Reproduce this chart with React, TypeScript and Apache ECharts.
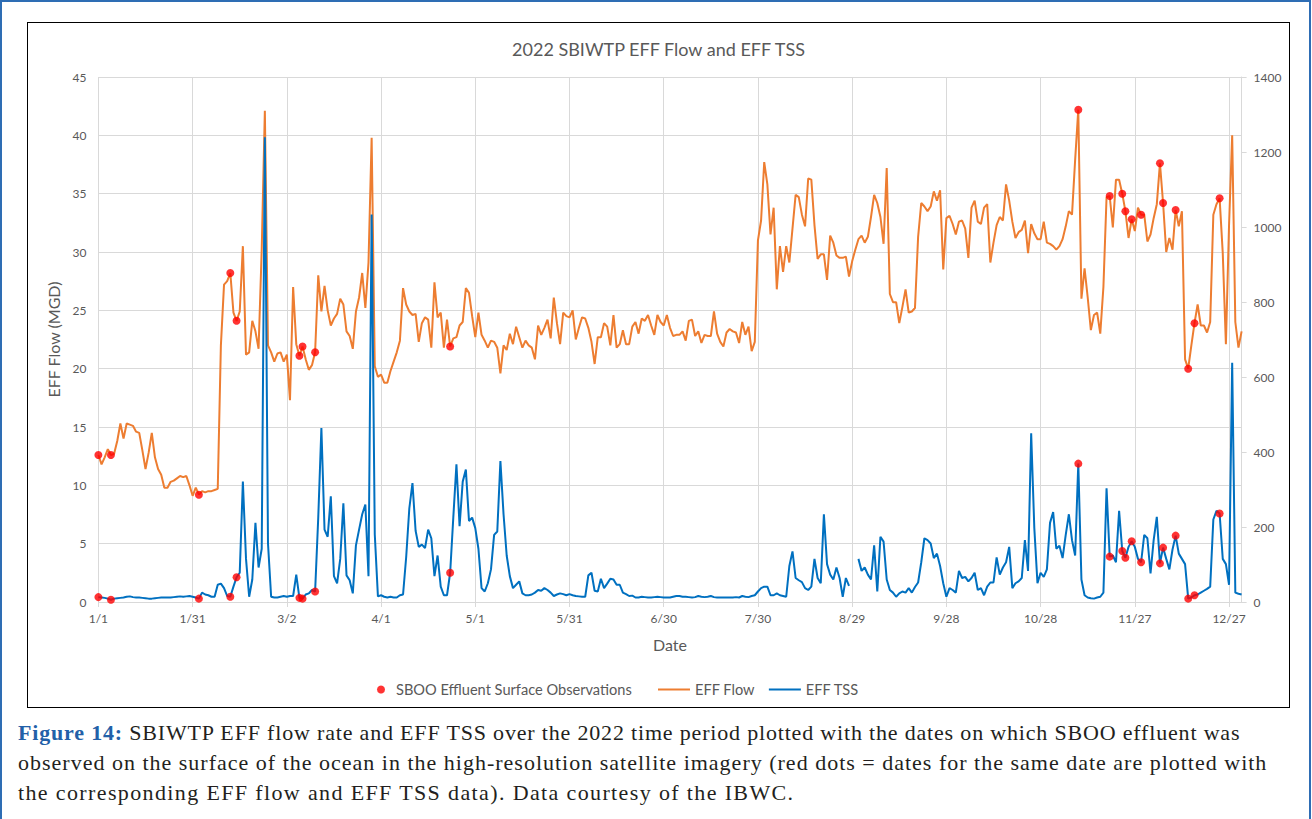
import React, { useEffect, useRef } from "react";
import * as echarts from "echarts";

// Daily EFF Flow (MGD), day 0 = 1/1/2022
const flow: number[] = [
  12.6, 11.8, 12.4, 13.1, 12.6, 12.7, 13.8, 15.3, 14.0, 15.3,
  15.2, 15.1, 14.6, 14.5, 13.0, 11.4, 12.8, 14.5, 12.4, 11.4,
  10.9, 9.8, 9.8, 10.3, 10.4, 10.6, 10.8, 10.7, 10.8, 10.0,
  9.1, 9.8, 9.2, 9.5, 9.4, 9.5, 9.5, 9.6, 9.7, 22.0,
  27.2, 27.5, 28.2, 24.8, 24.1, 24.9, 30.5, 21.2, 21.4, 24.1,
  23.2, 21.7, 30.2, 42.1, 22.0, 21.4, 20.6, 21.3, 21.4, 20.6,
  21.2, 17.3, 27.0, 22.1, 21.1, 21.9, 20.8, 19.9, 20.3, 21.4,
  28.0, 24.9, 27.1, 25.0, 23.7, 24.3, 24.7, 26.0, 25.5, 23.2,
  22.8, 21.7, 24.9, 26.1, 28.2, 25.2, 29.1, 39.8, 20.2, 19.3,
  19.5, 18.8, 18.8, 19.8, 20.6, 21.4, 22.4, 26.9, 25.5, 24.9,
  24.6, 24.7, 22.3, 23.9, 24.4, 24.2, 21.8, 27.4, 24.4, 24.8,
  21.8, 24.2, 21.9, 22.6, 22.7, 23.7, 24.0, 26.9, 26.5, 24.5,
  22.7, 24.8, 22.9, 22.4, 21.8, 22.4, 22.3, 21.8, 19.6, 22.0,
  21.6, 23.0, 22.1, 23.6, 22.7, 21.8, 22.4, 22.0, 21.8, 20.8,
  23.7, 22.9, 23.5, 24.2, 22.6, 26.1, 23.9, 22.1, 24.8, 24.5,
  24.4, 25.0, 22.5, 23.5, 24.4, 24.3, 23.5, 22.3, 20.4, 22.7,
  22.7, 23.9, 23.6, 22.0, 24.6, 21.8, 22.1, 23.3, 22.1, 22.1,
  23.6, 24.0, 23.0, 24.3, 24.1, 24.6, 23.7, 22.9, 24.6, 24.0,
  23.7, 24.6, 23.5, 22.8, 22.9, 22.9, 23.2, 22.4, 24.1, 24.2,
  22.8, 23.2, 22.2, 22.9, 22.8, 22.8, 24.9, 23.0, 22.3, 21.9,
  23.1, 23.4, 23.2, 23.1, 22.2, 24.0, 22.9, 23.6, 21.5, 22.3,
  31.0, 32.7, 37.7, 35.8, 31.5, 33.8, 26.8, 30.5, 28.3, 30.5,
  29.1, 32.0, 34.9, 34.7, 33.2, 32.2, 36.3, 36.2, 32.3, 29.4,
  29.8, 29.8, 27.6, 31.4, 30.8, 29.7, 29.5, 29.5, 29.6, 27.9,
  29.2, 30.2, 31.1, 31.4, 30.8, 31.3, 33.0, 34.9, 34.2, 33.0,
  30.7, 37.2, 26.4, 25.7, 25.7, 23.9, 25.3, 26.8, 24.8, 24.9,
  25.2, 31.3, 34.2, 33.9, 33.5, 33.9, 35.2, 34.4, 35.3, 28.5,
  32.9, 33.1, 32.4, 31.5, 32.6, 32.7, 32.0, 29.5, 33.8, 34.4,
  32.6, 32.4, 33.8, 34.1, 29.1, 30.8, 32.3, 33.0, 32.7, 35.8,
  34.4, 32.6, 31.2, 31.7, 31.9, 32.7, 29.9, 32.4, 31.6, 31.1,
  31.1, 32.6, 30.8, 30.7, 30.5, 30.2, 30.5, 31.1, 32.2, 33.5,
  33.2, 37.9, 42.2, 26.0, 28.6, 26.1, 23.3, 24.6, 24.8, 23.0,
  27.0, 34.7, 34.8, 32.1, 36.2, 36.2, 35.0, 33.5, 31.2, 32.8,
  31.8, 33.8, 33.2, 33.2, 30.9, 31.5, 32.9, 34.1, 37.6, 34.2,
  30.0, 31.2, 30.2, 33.6, 32.2, 33.5, 20.8, 20.0, 22.0, 23.9,
  25.5, 23.7, 23.7, 23.1, 24.0, 33.2, 34.1, 34.6, 29.9, 22.1,
  32.3, 40.0, 24.0, 21.8, 23.2,
];

// Daily EFF TSS, null = no data
const tss: (number | null)[] = [
  13, 12, 11, 9, 6, 9, 10, 11, 12, 14,
  15, 13, 12, 12, 11, 10, 9, 9, 10, 11,
  12, 12, 12, 12, 13, 14, 15, 14, 15, 16,
  14, 12, 9, 25, 20, 18, 14, 14, 46, 49,
  37, 16, 14, 41, 66, 78, 321, 115, 14, 60,
  211, 92, 142, 1239, 156, 14, 12, 12, 14, 16,
  14, 16, 16, 73, 11, 9, 20, 23, 32, 28,
  225, 464, 193, 174, 282, 69, 50, 115, 263, 71,
  58, 23, 151, 193, 234, 260, 69, 1033, 180, 15,
  18, 14, 12, 14, 12, 12, 18, 20, 120, 250,
  317, 190, 147, 153, 144, 193, 170, 69, 124, 41,
  18, 18, 78, 225, 367, 202, 321, 353, 216, 225,
  197, 142, 37, 28, 50, 87, 179, 188, 376, 234,
  124, 69, 37, 46, 55, 23, 18, 18, 20, 25,
  32, 30, 37, 32, 25, 16, 20, 23, 21, 18,
  21, 18, 16, 15, 14, 14, 71, 78, 30, 28,
  62, 37, 49, 62, 60, 46, 46, 25, 21, 16,
  17, 12, 12, 14, 13, 12, 12, 13, 14, 13,
  12, 12, 12, 14, 16, 16, 14, 14, 13, 12,
  13, 16, 14, 13, 14, 16, 13, 12, 12, 12,
  12, 12, 12, 13, 12, 16, 14, 13, 16, 18,
  28, 37, 41, 41, 18, 18, 23, 18, 16, 14,
  96, 135, 64, 58, 53, 37, 32, 41, 115, 64,
  50, 234, 101, 73, 60, 92, 64, 14, 64, 43,
  null, null, 115, 83, 92, 73, 60, 151, 28, 174,
  161, 60, 32, 25, 14, 23, 28, 25, 37, 25,
  40, 52, 106, 170, 165, 156, 117, 129, 96, 50,
  14, 37, 32, 25, 83, 64, 67, 55, 64, 78,
  32, 37, 18, 41, 52, 52, 119, 73, 92, 106,
  147, 37, 50, 55, 64, 165, 83, 450, 197, 50,
  78, 67, 87, 211, 240, 142, 150, 117, 179, 234,
  165, 124, 369, 60, 18, 12, 10, 9, 12, 14,
  25, 303, 121, 124, 106, 243, 136, 118, 147, 162,
  147, 115, 106, 179, 170, 76, 165, 227, 103, 145,
  115, 87, 140, 177, 129, 115, 101, 9, 12, 18,
  20, 25, 30, 35, 41, 220, 243, 236, 115, 101,
  46, 638, 25, 22, 20,
];

// Days on which SBOO effluent was observed at the surface
const obsDays: number[] = [0, 4, 32, 42, 44, 64, 65, 69, 112, 312, 322, 326, 327, 329, 332, 338, 339, 343, 347, 349, 357];

const TITLE = "2022 SBIWTP EFF Flow and EFF TSS";
const OBS = "SBOO Effluent Surface Observations";
const FLOW = "EFF Flow";
const TSS = "EFF TSS";
const captionLines: string[] = [
  " SBIWTP EFF flow rate and EFF TSS over the 2022 time period plotted with the dates on which SBOO effluent was",
  "observed on the surface of the ocean in the high-resolution satellite imagery (red dots = dates for the same date are plotted with",
  "the corresponding EFF flow and EFF TSS data). Data courtesy of the IBWC.",
];

const FONT = "Lato, 'Open Sans', sans-serif";
const GREY = "#595959";
const GRID = "#D9D9D9";
const LINE_ICON = "path://M0,0H32V2H0Z";

function dayLabel(v: number): string {
  if (v % 30 !== 0 || v > 360) return "";
  const dt = new Date(2022, 0, 1 + v);
  return `${dt.getMonth() + 1}/${dt.getDate()}`;
}

export default function App() {
  const ref = useRef<HTMLDivElement>(null);
  useEffect(() => {
    if (!ref.current) return;
    const chart = echarts.init(ref.current, undefined, { renderer: "svg" });
    const txt = { color: GREY, fontFamily: FONT, fontSize: 14.6 };
    chart.setOption({
      animation: false,
      textStyle: { fontFamily: FONT },
      title: {
        text: TITLE,
        left: "center",
        top: 12,
        textStyle: { fontFamily: FONT, fontSize: 18, fontWeight: "normal", color: GREY },
      },
      grid: { left: 70.4, right: 47.4, top: 54, bottom: 105, outerBoundsMode: "none" },
      legend: [
        {
          data: [{ name: OBS, icon: "circle" }],
          left: 344,
          top: 654,
          itemWidth: 20,
          itemHeight: 8,
          textStyle: txt,
        },
        {
          data: [
            { name: FLOW, icon: LINE_ICON },
            { name: TSS, icon: LINE_ICON },
          ],
          left: 625,
          top: 654,
          itemWidth: 32,
          itemHeight: 2,
          itemGap: 14,
          textStyle: txt,
        },
      ],
      xAxis: {
        type: "value",
        min: 0,
        max: 364,
        interval: 30,
        name: "Date",
        nameLocation: "middle",
        nameGap: 34,
        nameTextStyle: { color: GREY, fontFamily: FONT, fontSize: 16 },
        axisLine: { show: true, lineStyle: { color: GRID } },
        axisTick: { show: true, length: 5, lineStyle: { color: GRID } },
        axisLabel: { formatter: dayLabel, color: GREY, fontSize: 12, fontFamily: FONT, margin: 10, showMaxLabel: false },
        splitLine: { show: true, lineStyle: { color: GRID } },
      },
      yAxis: [
        {
          type: "value",
          min: 0,
          max: 45,
          interval: 5,
          position: "left",
          name: "EFF Flow (MGD)",
          nameLocation: "middle",
          nameRotate: 90,
          nameGap: 33,
          nameTextStyle: { color: GREY, fontFamily: FONT, fontSize: 16 },
          axisLine: { show: false },
          axisTick: { show: false },
          axisLabel: { color: GREY, fontSize: 12, fontFamily: FONT, margin: 12 },
          splitLine: { show: true, lineStyle: { color: GRID } },
        },
        {
          type: "value",
          min: 0,
          max: 1400,
          interval: 200,
          position: "right",
          axisLine: { show: true, lineStyle: { color: GRID } },
          axisTick: { show: true, length: 5, lineStyle: { color: GRID } },
          axisLabel: { color: GREY, fontSize: 12, fontFamily: FONT, margin: 12, formatter: (v: number) => String(v) },
          splitLine: { show: false },
        },
      ],
      series: [
        {
          name: FLOW,
          type: "line",
          yAxisIndex: 0,
          data: flow.map((v, i) => [i, v]),
          showSymbol: false,
          symbol: "none",
          lineStyle: { width: 2, color: "#ED7D31" },
          itemStyle: { color: "#ED7D31" },
          z: 2,
        },
        {
          name: TSS,
          type: "line",
          yAxisIndex: 1,
          data: tss.map((v, i) => [i, v === null ? "-" : v]),
          connectNulls: false,
          showSymbol: false,
          symbol: "none",
          lineStyle: { width: 2, color: "#0070C0" },
          itemStyle: { color: "#0070C0" },
          z: 3,
        },
        {
          name: OBS,
          type: "scatter",
          yAxisIndex: 0,
          data: obsDays.map((d) => [d, flow[d]]),
          symbolSize: 8,
          itemStyle: { color: "#FF0000" },
          z: 5,
        },
        {
          name: OBS,
          type: "scatter",
          yAxisIndex: 1,
          data: obsDays.map((d) => [d, tss[d]]),
          symbolSize: 8,
          itemStyle: { color: "#FF0000" },
          z: 5,
        },
      ],
    });
    return () => chart.dispose();
  }, []);

  const lineSpacing = ["0.82px", "1px", "1.37px"];

  return (
    <div style={{ position: "absolute", left: 0, top: 0, width: 1312, height: 819, background: "#fff", overflow: "hidden" }}>
      <div
        style={{
          position: "absolute",
          left: 0,
          top: 0,
          width: 1311,
          height: 819,
          borderLeft: "2px solid #2E6DB4",
          borderRight: "2px solid #2E6DB4",
          borderTop: "2px solid #2E6DB4",
          boxSizing: "border-box",
        }}
      />
      <div
        style={{
          position: "absolute",
          left: 27,
          top: 22,
          width: 1263,
          height: 686,
          border: "1px solid #000",
          boxSizing: "border-box",
          background: "#fff",
        }}
      >
        <div ref={ref} style={{ width: 1261, height: 684 }} />
      </div>
      <div
        style={{
          position: "absolute",
          left: 18,
          top: 718,
          fontFamily: "'Liberation Serif', 'DejaVu Serif', serif",
          fontSize: 22,
          lineHeight: "30px",
          color: "#231F20",
          whiteSpace: "nowrap",
        }}
      >
        <div style={{ letterSpacing: lineSpacing[0] }}>
          <span style={{ color: "#2260A8", fontWeight: "bold" }}>Figure 14:</span>
          {captionLines[0]}
        </div>
        <div style={{ letterSpacing: lineSpacing[1] }}>{captionLines[1]}</div>
        <div style={{ letterSpacing: lineSpacing[2] }}>{captionLines[2]}</div>
      </div>
    </div>
  );
}
